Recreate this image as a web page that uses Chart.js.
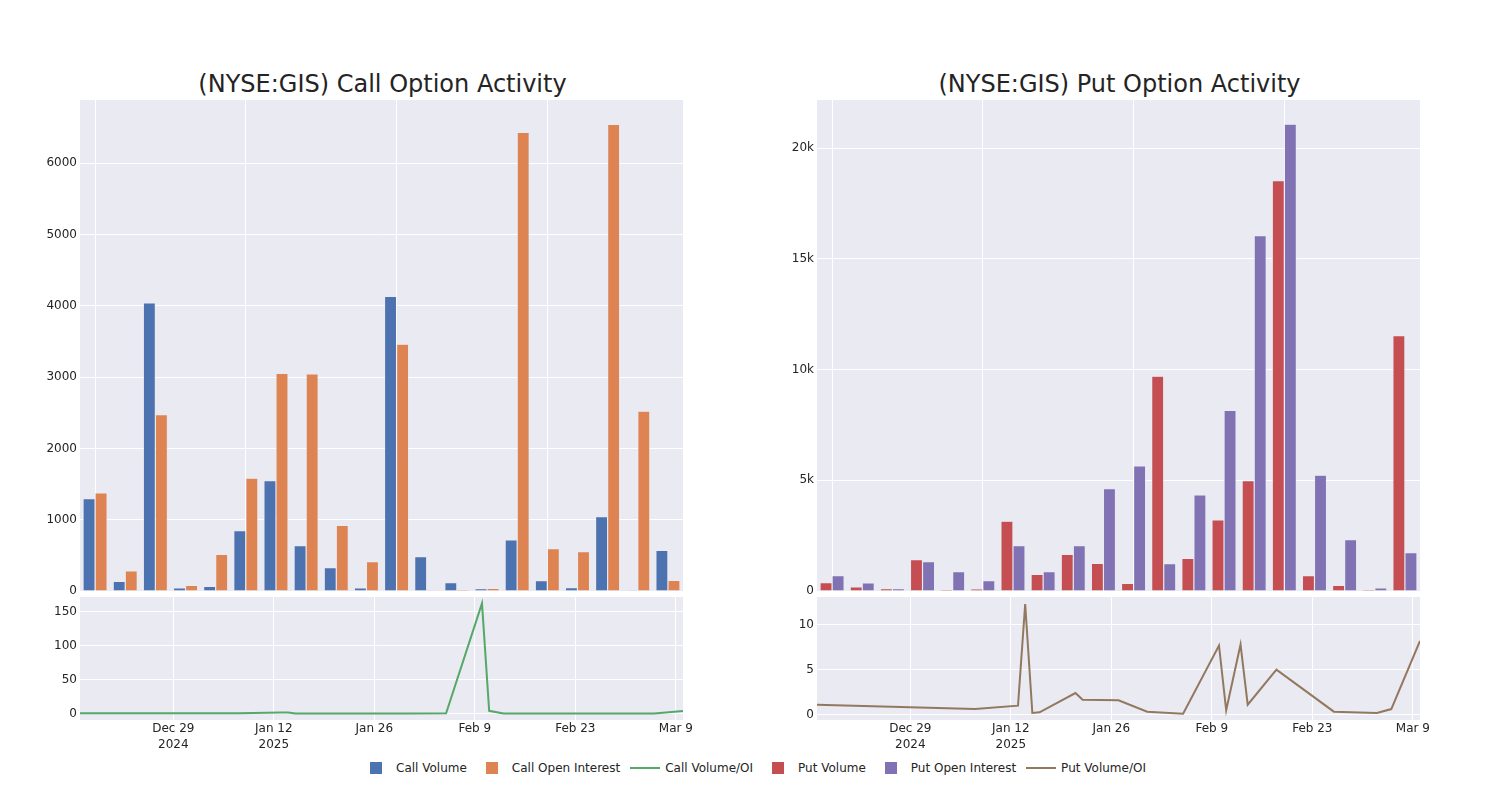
<!DOCTYPE html>
<html>
<head>
<meta charset="utf-8">
<script src="https://cdn.jsdelivr.net/npm/chart.js@4.4.0/dist/chart.umd.min.js"></script>
<style>
    body { margin: 0; background: #fff; font-family: "DejaVu Sans", sans-serif; }
    #page { position: relative; width: 1500px; height: 800px; overflow: hidden; }
    canvas { position: absolute; }
    .title { position: absolute; top: 69px; height: 30px; line-height: 30px; font-size: 24px;
             color: rgb(36,36,36); text-align: center; white-space: nowrap; }
    #legend { position: absolute; left: 356px; top: 760px; height: 16px; display: flex;
              align-items: center; font-size: 12px; color: rgb(36,36,36); }
    .item { display: flex; align-items: center; margin-right: 5px; }
    .sym { position: relative; width: 40px; height: 16px; }
    .sq { position: absolute; left: 14px; top: 2px; width: 12px; height: 12px; }
    .ln { position: absolute; left: 5px; top: 7px; width: 30px; height: 2px; }
</style>
</head>
<body>
<div id="page">
    <div class="title" style="left:81px; width:603px;">(NYSE:GIS) Call Option Activity</div>
    <div class="title" style="left:818px; width:603px;">(NYSE:GIS) Put Option Activity</div>
    <canvas id="callBar" width="700" height="530" style="left:0; top:80px;"></canvas>
    <canvas id="putBar" width="700" height="530" style="left:737px; top:80px;"></canvas>
    <canvas id="callLine" width="700" height="170" style="left:0; top:590px;"></canvas>
    <canvas id="putLine" width="700" height="170" style="left:737px; top:590px;"></canvas>
    <div id="legend"></div>
</div>
<script>
// trading dates shared by all four panels
const dates = ['2024-12-16', '2025-01-07', '2025-01-13', '2025-01-14', '2025-01-15', '2025-01-16', '2025-01-21',
    '2025-01-22', '2025-01-27', '2025-01-31', '2025-02-05', '2025-02-10', '2025-02-11', '2025-02-13',
    '2025-02-14', '2025-02-18', '2025-02-26', '2025-03-04', '2025-03-06', '2025-03-10'];

const callVolume = [1296, 136, 4043, 42, 66, 847, 1549, 636, 328, 42, 4132, 482, 117, 33, 716, 145, 47, 1043, 2, 571];
const callOpenInterest = [1376, 281, 2475, 80, 515, 1582, 3051, 3046, 922, 412, 3463, 3, 23, 37, 6434, 594, 552, 6546, 2522, 150];
const putVolume = [377, 181, 105, 1417, 75, 90, 3150, 754, 1658, 1251, 347, 9706, 1477, 3210, 4989, 18538, 693, 256, 60, 11530];
const putOpenInterest = [693, 362, 105, 1326, 874, 467, 2050, 874, 2050, 4627, 5652, 1236, 4341, 8154, 16052, 21085, 5230, 2321, 136, 1733];
const callRatio = [0.5, 0.5, 1.5, 1.4, 0.1, 0.1, 0.1, 0.1, 0.1, 0.1, 0.5, 162, 4, 0.1, 0.1, 0.1, 0.1, 0.1, 0.1, 3.8];
const putRatio = [1.1, 0.62, 1.0, 12.3, 0.18, 0.26, 2.4, 1.65, 1.6, 0.33, 0.1, 7.7, 0.48, 7.8, 1.1, 5.0, 0.33, 0.18, 0.62, 8.2];

const callBarTicks = [0, 1000, 2000, 3000, 4000, 5000, 6000];
const putBarTicks = [0, 5000, 10000, 15000, 20000];
const putBarTickLabels = ['0', '5k', '10k', '15k', '20k'];
const callLineTicks = [0, 50, 100, 150];
const putLineTicks = [0, 5, 10];
const timeTickDates = ['2024-12-29', '2025-01-12', '2025-01-26', '2025-02-09', '2025-02-23', '2025-03-09'];
const timeTickLabels = [['Dec 29', '2024'], ['Jan 12', '2025'], 'Jan 26', 'Feb 9', 'Feb 23', 'Mar 9'];

const colors = {
    callVol: '#4C72B0', callOI: '#DD8452', callRatio: '#55A868',
    putVol: '#C44E52', putOI: '#8172B3', putRatio: '#937860'
};
const textColor = 'rgb(36,36,36)';
const tickFont = { family: 'DejaVu Sans', size: 12, lineHeight: 1.33 };

Chart.defaults.font.family = 'DejaVu Sans';
Chart.defaults.color = textColor;

const toDay = s => Date.parse(s + 'T00:00:00Z') / 86400000;
const dayValues = dates.map(toDay);

// grey plot background like the seaborn template
const plotBg = {
    id: 'plotBg',
    beforeDraw(chart) {
        const a = chart.chartArea, c = chart.ctx;
        c.save();
        c.fillStyle = '#EAEAF2';
        c.fillRect(a.left, a.top, a.right - a.left, a.bottom - a.top);
        c.restore();
    }
};

// keep the plot areas exactly where the layout padding puts them
const fixY = s => { s.width = 80; s.paddingTop = 0; s.paddingBottom = 0; };
const fixX = h => s => { s.height = h; s.paddingLeft = 0; s.paddingRight = 0; };

function barChart(id, labels, vols, ois, names, cols, yMax, yTicks, yLabels) {
    new Chart(document.getElementById(id), {
        type: 'bar',
        data: {
            labels: labels,
            datasets: [{
                label: names[0], data: vols, backgroundColor: cols[0],
                borderColor: 'rgba(234,234,242,0.9)', borderWidth: 0.6
            }, {
                label: names[1], data: ois, backgroundColor: cols[1],
                borderColor: 'rgba(234,234,242,0.9)', borderWidth: 0.6
            }]
        },
        plugins: [plotBg],
        options: {
            responsive: false,
            animation: false,
            layout: { padding: { left: 0, top: 20, right: 17, bottom: 19 } },
            datasets: { bar: { categoryPercentage: 0.8, barPercentage: 1.0 } },
            plugins: { legend: { display: false }, tooltip: { enabled: false } },
            scales: {
                x: {
                    offset: true,
                    grid: {
                        offset: false, drawTicks: false, lineWidth: 1,
                        color: ctx => ctx.index % 5 === 0 ? '#ffffff' : 'rgba(0,0,0,0)'
                    },
                    border: { display: false },
                    ticks: { display: false, autoSkip: false },
                    afterFit: fixX(0)
                },
                y: {
                    min: 0, max: yMax,
                    grid: { color: '#ffffff', drawTicks: false, lineWidth: 1 },
                    border: { display: false },
                    afterBuildTicks: s => { s.ticks = yTicks.map(v => ({ value: v })); },
                    ticks: {
                        padding: 3, font: tickFont, color: textColor,
                        callback: (v, i) => yLabels ? yLabels[i] : String(v)
                    },
                    afterFit: fixY
                }
            }
        }
    });
}

function lineChart(id, values, name, col, yMin, yMax, yTicks) {
    new Chart(document.getElementById(id), {
        type: 'line',
        data: {
            datasets: [{
                label: name,
                data: values.map((v, i) => ({ x: dayValues[i], y: v })),
                borderColor: col, borderWidth: 2, pointRadius: 0, tension: 0, fill: false
            }]
        },
        plugins: [plotBg],
        options: {
            responsive: false,
            animation: false,
            layout: { padding: { left: 0, top: 7, right: 17, bottom: 0 } },
            plugins: { legend: { display: false }, tooltip: { enabled: false } },
            scales: {
                x: {
                    type: 'linear',
                    min: dayValues[0], max: dayValues[dayValues.length - 1],
                    grid: { color: '#ffffff', drawTicks: false, lineWidth: 1 },
                    border: { display: false },
                    afterBuildTicks: s => { s.ticks = timeTickDates.map(d => ({ value: toDay(d) })); },
                    ticks: {
                        autoSkip: false, maxRotation: 0, padding: 1, font: tickFont, color: textColor,
                        callback: (v, i) => timeTickLabels[i]
                    },
                    afterFit: fixX(40)
                },
                y: {
                    min: yMin, max: yMax,
                    grid: { color: '#ffffff', drawTicks: false, lineWidth: 1 },
                    border: { display: false },
                    afterBuildTicks: s => { s.ticks = yTicks.map(v => ({ value: v })); },
                    ticks: { padding: 3, font: tickFont, color: textColor },
                    afterFit: fixY
                }
            }
        }
    });
}

barChart('callBar', dates, callVolume, callOpenInterest, ['Call Volume', 'Call Open Interest'],
    [colors.callVol, colors.callOI], 6888, callBarTicks, null);
barChart('putBar', dates, putVolume, putOpenInterest, ['Put Volume', 'Put Open Interest'],
    [colors.putVol, colors.putOI], 22180, putBarTicks, putBarTickLabels);
lineChart('callLine', callRatio, 'Call Volume/OI', colors.callRatio, -9.45, 171.3, callLineTicks);
lineChart('putLine', putRatio, 'Put Volume/OI', colors.putRatio, -0.6, 13.1, putLineTicks);

// shared legend under all panels
const legendItems = [
    ['Call Volume', colors.callVol, 'sq'], ['Call Open Interest', colors.callOI, 'sq'],
    ['Call Volume/OI', colors.callRatio, 'ln'], ['Put Volume', colors.putVol, 'sq'],
    ['Put Open Interest', colors.putOI, 'sq'], ['Put Volume/OI', colors.putRatio, 'ln']
];
const legend = document.getElementById('legend');
legendItems.forEach(([text, col, kind]) => {
    const item = document.createElement('div');
    item.className = 'item';
    item.innerHTML = '<div class="sym"><div class="' + kind + '" style="background:' + col + '"></div></div><span>' + text + '</span>';
    legend.appendChild(item);
});
</script>
</body>
</html>
